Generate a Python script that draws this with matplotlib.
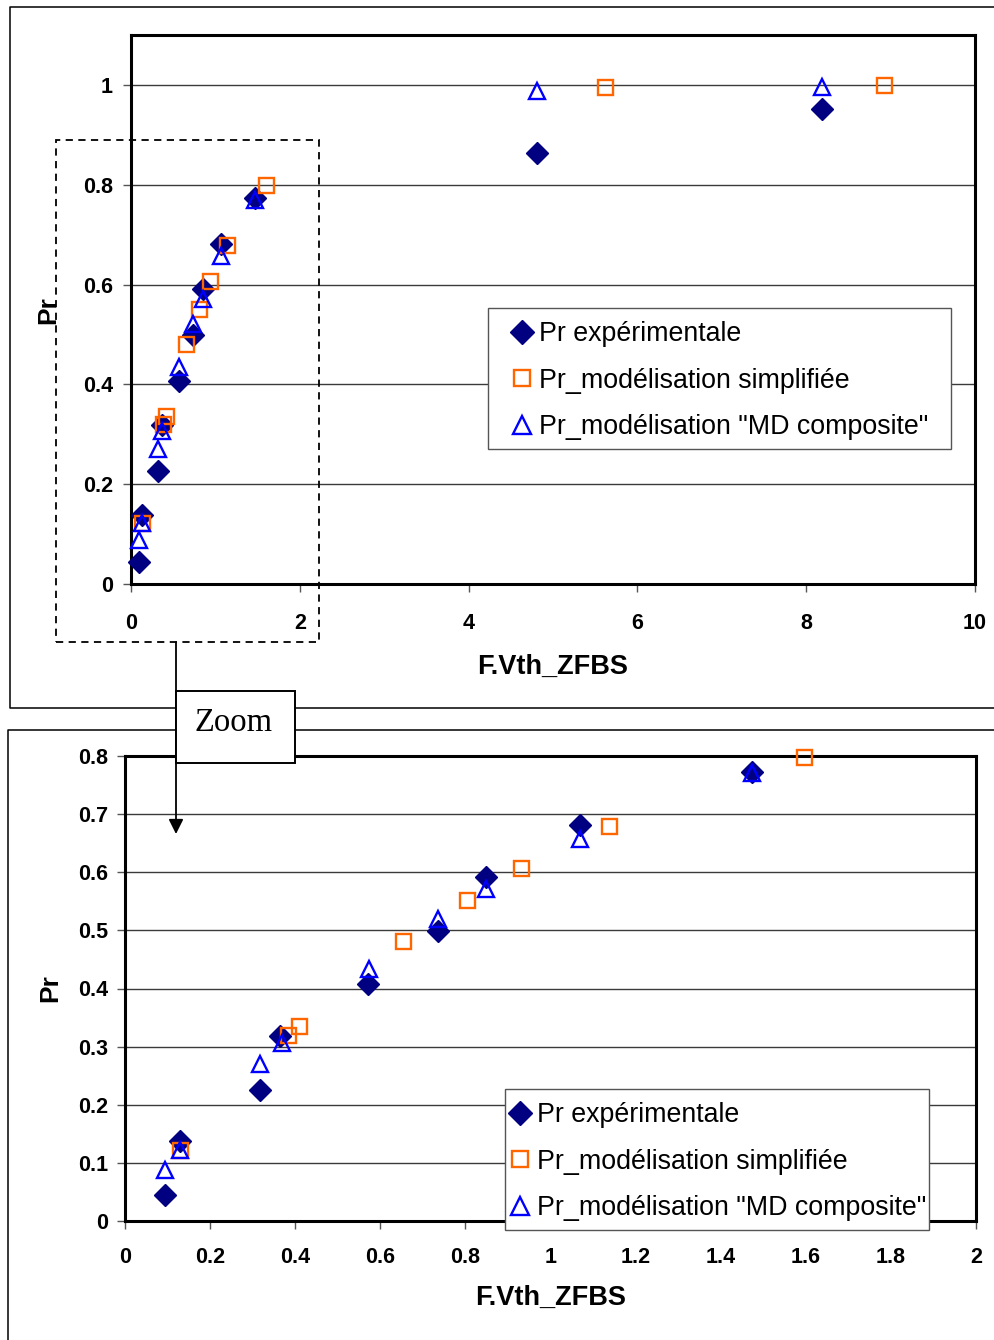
import matplotlib.pyplot as plt
from matplotlib.lines import Line2D
from matplotlib.patches import Rectangle, FancyArrowPatch

# Pr expérimentale
x_exp = [0.094, 0.129, 0.318, 0.364, 0.572, 0.736, 0.848, 1.070, 1.473, 4.81, 8.19]
y_exp = [0.045, 0.138, 0.226, 0.318, 0.407, 0.499, 0.591, 0.681, 0.773, 0.864, 0.952]

# Pr_modélisation simplifiée
x_simp = [0.130, 0.382, 0.409, 0.654, 0.803, 0.931, 1.137, 1.596, 5.62, 8.92]
y_simp = [0.122, 0.320, 0.336, 0.481, 0.552, 0.607, 0.680, 0.799, 0.996, 1.000]

# Pr_modélisation "MD composite"
x_md = [0.094, 0.130, 0.318, 0.369, 0.573, 0.736, 0.848, 1.070, 1.473, 4.81, 8.19]
y_md = [0.088, 0.122, 0.270, 0.307, 0.434, 0.520, 0.571, 0.658, 0.770, 0.988, 0.996]

labels = ['Pr expérimentale', 'Pr_modélisation simplifiée', 'Pr_modélisation "MD composite"']

W, H = 994, 1340
plt.rcParams['font.family'] = ['Liberation Sans', 'DejaVu Sans']

fig = plt.figure(figsize=(W / 100, H / 100), dpi=100)


def px(x, y):
    return x / W, 1 - y / H


def box(l, t, r, b):
    return [l / W, 1 - b / H, (r - l) / W, (b - t) / H]


def draw_series(ax):
    ax.plot(x_exp, y_exp, ls='none', marker='D', ms=11, color='#000080',
            mec='#000080', mew=1, label=labels[0], zorder=3, clip_on=False)
    ax.plot(x_simp, y_simp, ls='none', marker='s', ms=10.8, mfc='none',
            mec='#FF6600', mew=1.7, label=labels[1], zorder=4, clip_on=False)
    ax.plot(x_md, y_md, ls='none', marker='^', ms=11.5, mfc='none',
            mec='#0000FF', mew=1.7, label=labels[2], zorder=5, clip_on=False)


def style(ax, xpad, ypad):
    for s in ax.spines.values():
        s.set_linewidth(2.2)
        s.set_color('black')
    ax.grid(axis='y', color='#3a3a3a', lw=1)
    ax.set_axisbelow(True)
    ax.tick_params(direction='out', length=6, width=1, color='#555555',
                   labelsize=15.5)
    ax.tick_params(axis='x', pad=xpad)
    ax.tick_params(axis='y', pad=ypad)
    for t in ax.get_xticklabels() + ax.get_yticklabels():
        t.set_fontweight('bold')


def add_legend(ax, frame, marker_x, row1_y):
    l, t, r, b = frame
    fl, fb = px(l, b)
    ax.add_artist(Rectangle((fl, fb), (r - l) / W, (b - t) / H,
                            transform=fig.transFigure, fc='white', ec='#555555',
                            lw=1, zorder=9, clip_on=False))
    fs = 19.3
    fpx = fs * 100 / 72
    hl = 20 / fpx
    lx, ly = px(marker_x - 10, row1_y - 11)
    leg = ax.legend(loc='upper left', bbox_to_anchor=(lx, ly),
                    bbox_transform=fig.transFigure, borderaxespad=0, borderpad=0,
                    fontsize=fs, frameon=False, handlelength=hl,
                    handletextpad=7 / fpx, labelspacing=0.77, markerscale=1.1)
    leg.set_zorder(10)
    return leg


# upper chart
ax1 = fig.add_axes(box(131, 35, 975, 584))
draw_series(ax1)
ax1.set_xlim(0, 10)
ax1.set_ylim(0, 1.1)
ax1.set_xticks([0, 2, 4, 6, 8, 10])
ax1.set_xticklabels(['0', '2', '4', '6', '8', '10'])
ax1.set_yticks([0, 0.2, 0.4, 0.6, 0.8, 1.0])
ax1.set_yticklabels(['0', '0.2', '0.4', '0.6', '0.8', '1'])
style(ax1, 15, 7)
ax1.set_xlabel('F.Vth_ZFBS', fontsize=19.5, fontweight='bold', va='center')
ax1.xaxis.set_label_coords(0.5, (584 - 667) / 549)
ax1.set_ylabel('Pr', fontsize=19, fontweight='bold', va='center')
ax1.yaxis.set_label_coords((48 - 131) / 844, (584 - 310) / 549)
add_legend(ax1, (488, 308, 951, 449), 522, 332)

# lower chart (zoom)
ax2 = fig.add_axes(box(125, 756, 976, 1221))
draw_series(ax2)
ax2.set_xlim(0, 2)
ax2.set_ylim(0, 0.8)
ax2.set_xticks([0, 0.2, 0.4, 0.6, 0.8, 1.0, 1.2, 1.4, 1.6, 1.8, 2.0])
ax2.set_xticklabels(['0', '0.2', '0.4', '0.6', '0.8', '1', '1.2', '1.4', '1.6', '1.8', '2'])
ax2.set_yticks([0, 0.1, 0.2, 0.3, 0.4, 0.5, 0.6, 0.7, 0.8])
ax2.set_yticklabels(['0', '0.1', '0.2', '0.3', '0.4', '0.5', '0.6', '0.7', '0.8'])
style(ax2, 13, 6)
ax2.set_xlabel('F.Vth_ZFBS', fontsize=19.5, fontweight='bold', va='center')
ax2.xaxis.set_label_coords(0.5, (1221 - 1298) / 465)
ax2.set_ylabel('Pr', fontsize=19, fontweight='bold', va='center')
ax2.yaxis.set_label_coords((50 - 125) / 851, (1221 - 988) / 465)
add_legend(ax2, (505, 1089, 929, 1230), 520, 1113)


# panel frames
def fline(xs, ys, **kw):
    pts = [px(x, y) for x, y in zip(xs, ys)]
    fig.add_artist(Line2D([p[0] for p in pts], [p[1] for p in pts],
                          transform=fig.transFigure, color='black', lw=1.1, **kw))


fline([994, 10, 10, 994], [7, 7, 708, 708])
fline([8, 8, 994], [1340, 730, 730])

# dashed selection rectangle
l, b = px(56, 642)
fig.add_artist(Rectangle((l, b), (319 - 56) / W, (642 - 140) / H,
                         transform=fig.transFigure, fill=False, ec='black',
                         lw=1.3, ls=(0, (4, 3)), zorder=5))

# arrow to the zoom
fig.add_artist(FancyArrowPatch(px(176, 642), px(176, 834), transform=fig.transFigure,
                               arrowstyle='-|>', mutation_scale=22, lw=1.3,
                               color='black', shrinkA=0, shrinkB=0, zorder=6))

# "Zoom" box
l, b = px(176, 763)
fig.add_artist(Rectangle((l, b), (295 - 176) / W, (763 - 691) / H,
                         transform=fig.transFigure, fc='white', ec='black',
                         lw=1.4, zorder=7))
zx, zy = px(234, 723)
fig.text(zx, zy, 'Zoom', ha='center', va='center', fontsize=23.5,
         family=['Liberation Serif', 'DejaVu Serif'], zorder=8)

fig.savefig('out.png', dpi=100, facecolor='white')
